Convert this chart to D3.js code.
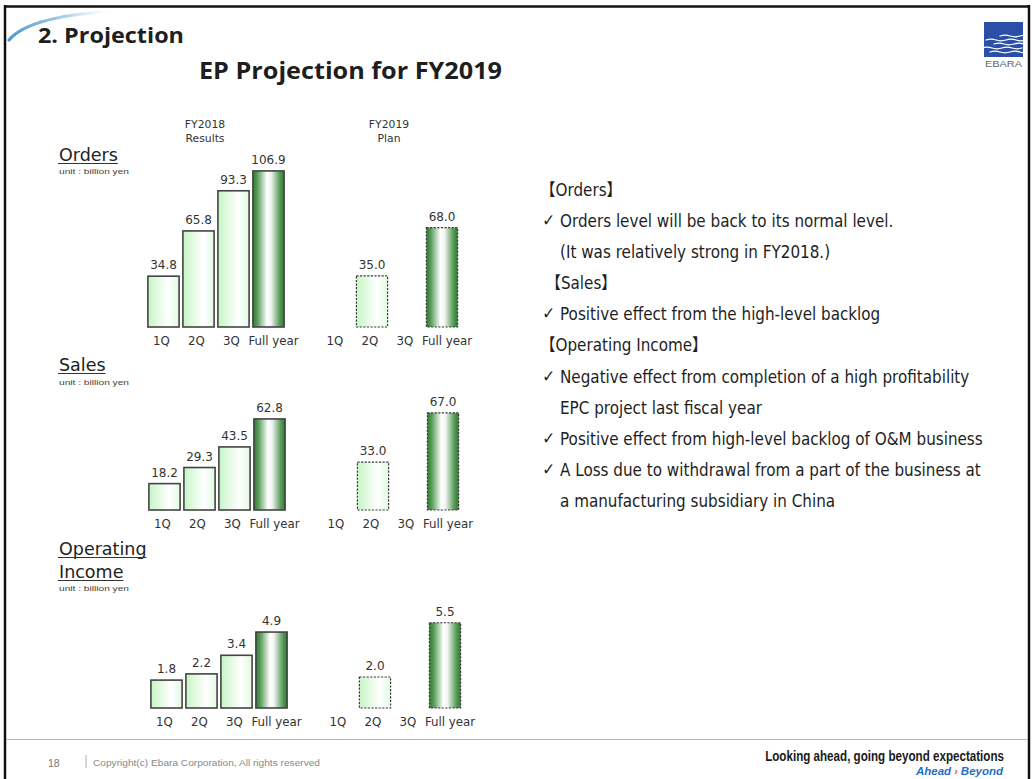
<!DOCTYPE html>
<html>
<head>
<meta charset="utf-8">
<script src="https://cdn.jsdelivr.net/npm/d3@7"></script>
<style>
  html, body { margin: 0; padding: 0; background: #fff; }
  svg { display: block; }
</style>
</head>
<body>
<svg id="slide"></svg>
<script>
const width = 1032, height = 779;

// ---- data ----
const quarters = ["1Q", "2Q", "3Q", "Full year"];
const ordersFY2018 = [34.8, 65.8, 93.3, 106.9];
const ordersFY2019 = [null, 35.0, null, 68.0];
const salesFY2018 = [18.2, 29.3, 43.5, 62.8];
const salesFY2019 = [null, 33.0, null, 67.0];
const incomeFY2018 = [1.8, 2.2, 3.4, 4.9];
const incomeFY2019 = [null, 2.0, null, 5.5];
const groupHeaders = [["FY2018", "Results"], ["FY2019", "Plan"]];
const sectionTitles = [["Orders"], ["Sales"], ["Operating", "Income"]];
const unitLabel = "unit : billion yen";
const commentLines = [
  "【Orders】",
  "✓ Orders level will be back to its normal level.",
  "(It was relatively strong in FY2018.)",
  "【Sales】",
  "✓ Positive effect from the high-level backlog",
  "【Operating Income】",
  "✓ Negative effect from completion of a high profitability",
  "EPC project last fiscal year",
  "✓ Positive effect from high-level backlog of O&M business",
  "✓ A Loss due to withdrawal from a part of the business at",
  "a manufacturing subsidiary in China"
];

const svg = d3.select("#slide").attr("width", width).attr("height", height);
const defs = svg.append("defs");

// gradients for the bars
const gq = defs.append("linearGradient").attr("id", "gQuarter").attr("x1", 0).attr("x2", 1);
gq.append("stop").attr("offset", 0).attr("stop-color", "#c6f5c6");
gq.append("stop").attr("offset", 0.65).attr("stop-color", "#ffffff");
gq.append("stop").attr("offset", 1).attr("stop-color", "#e2fae2");

const gf = defs.append("linearGradient").attr("id", "gFull").attr("x1", 0).attr("x2", 1);
[[0, "#2c7a2e"], [0.15, "#5d9f5e"], [0.45, "#ffffff"], [0.58, "#f2f4f2"], [0.85, "#5d9f5e"], [1, "#2c7a2e"]]
  .forEach(s => gf.append("stop").attr("offset", s[0]).attr("stop-color", s[1]));

const gs = defs.append("linearGradient").attr("id", "gSwoosh").attr("x1", 0).attr("x2", 1);
gs.append("stop").attr("offset", 0).attr("stop-color", "#4f97cc");
gs.append("stop").attr("offset", 0.5).attr("stop-color", "#a9cfe8");
gs.append("stop").attr("offset", 1).attr("stop-color", "#ffffff").attr("stop-opacity", 0);

defs.append("clipPath").attr("id", "logoClip")
  .append("rect").attr("x", -3).attr("y", 0).attr("width", 42).attr("height", 35);

// ---- frame ----
svg.append("rect").attr("width", width).attr("height", height).attr("fill", "#fff");
svg.append("line").attr("x1", 4).attr("x2", 1030).attr("y1", 6.5).attr("y2", 6.5)
  .attr("stroke", "#111").attr("stroke-width", 2.5);
svg.append("line").attr("x1", 5).attr("x2", 5).attr("y1", 5).attr("y2", height)
  .attr("stroke", "#111").attr("stroke-width", 2.5);
svg.append("line").attr("x1", 1029).attr("x2", 1029).attr("y1", 5).attr("y2", height)
  .attr("stroke", "#111").attr("stroke-width", 2.5);
svg.append("path").attr("d", "M9,40 Q30,15 120,11")
  .attr("fill", "none").attr("stroke", "url(#gSwoosh)").attr("stroke-width", 3.2)
  .attr("stroke-linecap", "round");

// ---- titles ----
svg.append("text").attr("x", 38).attr("y", 43)
  .attr("font-family", "'Open Sans', sans-serif").attr("font-weight", 700)
  .attr("font-size", 21).attr("fill", "#1e1e1e")
  .attr("textLength", 146).attr("lengthAdjust", "spacingAndGlyphs")
  .text("2. Projection");
svg.append("text").attr("x", 199).attr("y", 79)
  .attr("font-family", "'Open Sans', sans-serif").attr("font-weight", 700)
  .attr("font-size", 23).attr("fill", "#1e1e1e")
  .attr("textLength", 303).attr("lengthAdjust", "spacingAndGlyphs")
  .text("EP Projection for FY2019");

// ---- logo ----
const logo = svg.append("g").attr("transform", "translate(984,22)");
logo.append("rect").attr("width", 39).attr("height", 35).attr("fill", "#2b4fa6");
const waves = logo.append("g").attr("clip-path", "url(#logoClip)");
[[14, 16], [18, 2], [22, 10], [26, -2], [30, 6]].forEach(w => {
  waves.append("path")
    .attr("d", `M${w[1]},${w[0]} q5,-1.6 10,0 t10,0 t10,0 t10,0`)
    .attr("fill", "none").attr("stroke", "#fff").attr("stroke-width", 1.3)
    .attr("stroke-linecap", "round");
});
logo.append("text").attr("x", 19.5).attr("y", 45).attr("text-anchor", "middle")
  .attr("font-family", "'Liberation Sans', sans-serif").attr("font-size", 9.5)
  .attr("fill", "#666").attr("textLength", 37).attr("lengthAdjust", "spacingAndGlyphs")
  .text("EBARA");

// ---- charts ----
const labelFont = "'DejaVu Sans', Verdana, sans-serif";
const panels = [
  { fy18: ordersFY2018, fy19: ordersFY2019, yMax: 110, base: 327, top: 166.4, shift: 0 },
  { fy18: salesFY2018, fy19: salesFY2019, yMax: 110, base: 510, top: 350.5, shift: 1 },
  { fy18: incomeFY2018, fy19: incomeFY2019, yMax: 10, base: 708, top: 553, shift: 3 }
];

panels.forEach((p, pi) => {
  const g = svg.append("g").attr("transform", `translate(${p.shift},0)`);
  const y = d3.scaleLinear().domain([0, p.yMax]).range([p.base, p.top]);
  const x18 = d3.scaleBand().domain(quarters).range([146, 286]).paddingInner(0.08).paddingOuter(0.04);
  const x19 = d3.scaleBand().domain(quarters).range([319.5, 459.5]).paddingInner(0.08).paddingOuter(0.04);

  [[p.fy18, x18, false], [p.fy19, x19, true]].forEach(([vals, x, plan]) => {
    const data = quarters.map((q, i) => ({ q, v: vals[i] }));
    const bars = data.filter(d => d.v != null);

    g.selectAll(null).data(bars).join("rect")
      .attr("x", d => x(d.q) + 0.5)
      .attr("y", d => y(d.v))
      .attr("width", x.bandwidth() - 1)
      .attr("height", d => y(0) - y(d.v))
      .attr("fill", d => d.q === "Full year" ? "url(#gFull)" : "url(#gQuarter)")
      .attr("stroke", plan ? "#3a3a3a" : "#444")
      .attr("stroke-width", plan ? 1.2 : 1.6)
      .attr("stroke-dasharray", plan ? "2.2,1.4" : null);

    g.selectAll(null).data(bars).join("text")
      .attr("x", d => x(d.q) + x.bandwidth() / 2)
      .attr("y", d => y(d.v) - 7)
      .attr("text-anchor", "middle")
      .attr("font-family", labelFont).attr("font-size", 12).attr("fill", "#333")
      .text(d => d3.format(".1f")(d.v));

    g.selectAll(null).data(data).join("text")
      .attr("x", d => x(d.q) + x.bandwidth() / 2 + (d.q === "Full year" ? 5 : -2))
      .attr("y", y(0) + 18)
      .attr("text-anchor", "middle")
      .attr("font-family", labelFont).attr("font-size", 11.8).attr("fill", "#333")
      .text(d => d.q);

    if (pi === 0) {
      const hdr = groupHeaders[plan ? 1 : 0];
      const cx = plan ? 389 : 205;
      hdr.forEach((t, i) => {
        svg.append("text").attr("x", cx).attr("y", 128 + i * 14)
          .attr("text-anchor", "middle")
          .attr("font-family", labelFont).attr("font-size", 10.8).attr("fill", "#333")
          .text(t);
      });
    }
  });
});

// section titles with underline
const titleSpots = [[161], [371], [555, 578]];
const unitSpots = [174, 385, 591];
sectionTitles.forEach((lines, si) => {
  lines.forEach((t, li) => {
    const tx = svg.append("text").attr("x", 59).attr("y", titleSpots[si][li])
      .attr("font-family", labelFont).attr("font-size", 17.5).attr("fill", "#222")
      .text(t);
    const w = tx.node().getComputedTextLength();
    svg.append("line").attr("x1", 58).attr("x2", 59 + w)
      .attr("y1", titleSpots[si][li] + 2.5).attr("y2", titleSpots[si][li] + 2.5)
      .attr("stroke", "#333").attr("stroke-width", 1.2);
  });
  svg.append("text").attr("x", 59).attr("y", unitSpots[si])
    .attr("font-family", "'Liberation Sans', Arial, sans-serif").attr("font-size", 8)
    .attr("fill", "#444").attr("textLength", 70).attr("lengthAdjust", "spacingAndGlyphs")
    .text(unitLabel);
});

// ---- comments on the right ----
const cg = svg.append("g");
const lineY = d3.scaleLinear().domain([0, commentLines.length - 1]).range([196, 507]);
let refNode = null;
commentLines.forEach((t, i) => {
  const isHead = t.startsWith("【");
  const isCheck = t.startsWith("✓");
  const body = isCheck ? t.slice(2) : t;
  const tx = cg.append("text")
    .attr("x", isHead ? (t === "【Sales】" ? -16 : -22) : 0)
    .attr("y", lineY(i))
    .attr("font-family", "'DejaVu Sans', 'Noto Sans CJK JP', sans-serif")
    .attr("font-size", 17).attr("fill", "#1e1e1e")
    .text(body);
  if (isCheck) {
    cg.append("text").attr("x", -20).attr("y", lineY(i) - 1)
      .attr("font-family", "'DejaVu Sans', sans-serif").attr("font-size", 17)
      .attr("fill", "#1e1e1e").text("✓");
  }
  if (i === 8) refNode = tx.node();
});
const sx = 423 / refNode.getComputedTextLength();
cg.attr("transform", `translate(560,0) scale(${sx},1)`);

// ---- footer ----
svg.append("line").attr("x1", 6).attr("x2", 1028).attr("y1", 739.5).attr("y2", 739.5)
  .attr("stroke", "#b5b5b5").attr("stroke-width", 1.2);
const footFont = "'Liberation Sans', Arial, sans-serif";
svg.append("text").attr("x", 48).attr("y", 767).attr("font-family", footFont)
  .attr("font-size", 10.5).attr("fill", "#777").text("18");
svg.append("line").attr("x1", 86).attr("x2", 86).attr("y1", 755).attr("y2", 768)
  .attr("stroke", "#999").attr("stroke-width", 0.8);
svg.append("text").attr("x", 93).attr("y", 766).attr("font-family", footFont)
  .attr("font-size", 8.5).attr("fill", "#888")
  .attr("textLength", 227).attr("lengthAdjust", "spacingAndGlyphs")
  .text("Copyright(c) Ebara Corporation, All rights reserved");
const motto = svg.append("text").attr("text-anchor", "end")
  .attr("font-family", footFont).attr("font-weight", 700).attr("font-size", 14)
  .attr("fill", "#1a1a1a")
  .text("Looking ahead, going beyond expectations");
const mw = motto.node().getComputedTextLength();
motto.attr("transform", `translate(1004,761) scale(${239 / mw},1)`);
const tag = svg.append("text").attr("x", 1003).attr("y", 775).attr("text-anchor", "end")
  .attr("font-family", footFont).attr("font-weight", 700).attr("font-style", "italic")
  .attr("font-size", 11.5);
tag.append("tspan").attr("fill", "#1f6fc6").text("Ahead ");
tag.append("tspan").attr("fill", "#e0542a").attr("font-size", 10).text("›");
tag.append("tspan").attr("fill", "#1f6fc6").text(" Beyond");
</script>
</body>
</html>
